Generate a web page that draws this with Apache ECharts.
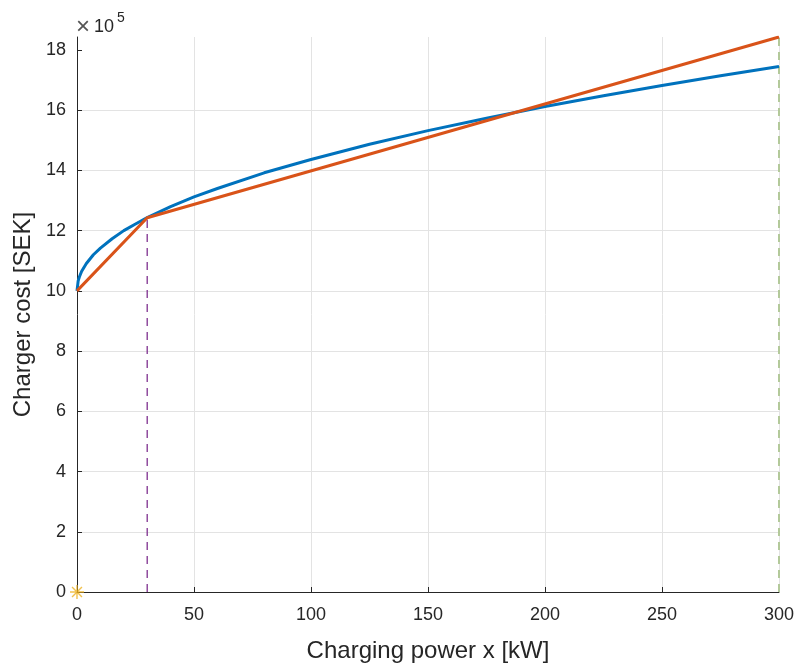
<!DOCTYPE html>
<html><head><meta charset="utf-8">
<script src="https://cdn.jsdelivr.net/npm/echarts@6/dist/echarts.min.js"></script>
<style>html,body{margin:0;padding:0;background:#fff}#c{width:798px;height:668px}</style>
</head><body><div id="c"></div>
<script>
// Values in units of 1e5 SEK
const powerX = [0, 0.5, 1, 2, 4, 7, 10, 15, 20, 25, 30, 40, 50, 60, 80, 100, 125, 150, 175, 200, 225, 250, 275, 300];
const costCurve = [10.00, 10.33, 10.46, 10.65, 10.91, 11.20, 11.42, 11.73, 12.00, 12.22, 12.43, 12.80, 13.12, 13.40, 13.92, 14.36, 14.87, 15.32, 15.73, 16.12, 16.48, 16.82, 17.14, 17.45];
const linX = [0, 30, 300];
const linCost = [10.00, 12.43, 18.43];
const breakX = 30;
const breakCost = 12.43;
const maxX = 300;
const maxCost = 18.43;
const originPoint = [0, 0];
const yTicks = [0, 2, 4, 6, 8, 10, 12, 14, 16, 18];

const chart = echarts.init(document.getElementById('c'));
const font = 'Liberation Sans, Arial, sans-serif';
const axisCol = '#262626';
const gridCol = '#e3e3e3';
const asterisk = 'path://M-1,-10L1,-10L1,10L-1,10Z M-10,-1L10,-1L10,1L-10,1Z M-7.8,-6.4L-6.4,-7.8L7.8,6.4L6.4,7.8Z M6.4,-7.8L7.8,-6.4L-6.4,7.8L-7.8,6.4Z';

chart.setOption({
  animation: false,
  backgroundColor: '#fff',
  grid: {left: 77, right: 19, top: 37, bottom: 75, containLabel: false},
  xAxis: {
    type: 'value', min: 0, max: 300, interval: 50,
    name: 'Charging power x [kW]', nameLocation: 'middle', nameGap: 47,
    nameTextStyle: {fontFamily: font, fontSize: 24, color: axisCol},
    axisLine: {show: true, onZero: false, lineStyle: {color: axisCol, width: 1}},
    axisTick: {show: true, inside: true, length: 5, lineStyle: {color: axisCol}},
    axisLabel: {fontFamily: font, fontSize: 18, color: axisCol, margin: 14},
    splitLine: {show: true, lineStyle: {color: gridCol, width: 1}}
  },
  yAxis: {
    type: 'value', min: 0, max: maxCost, interval: 2,
    name: 'Charger cost [SEK]', nameLocation: 'middle', nameGap: 41, nameRotate: 90,
    nameTextStyle: {fontFamily: font, fontSize: 24, color: axisCol},
    axisLine: {show: true, onZero: false, lineStyle: {color: axisCol, width: 1}},
    axisTick: {show: true, inside: true, length: 5, lineStyle: {color: axisCol}, customValues: yTicks},
    axisLabel: {fontFamily: font, fontSize: 18, color: axisCol, margin: 11, customValues: yTicks,
      formatter: v => (yTicks.indexOf(v) >= 0 ? String(v) : '')},
    splitLine: {show: true, showMaxLine: false, lineStyle: {color: gridCol, width: 1}}
  },
  graphic: [
    {type: 'text', x: 76, y: 27, style: {text: '×', font: '24px Liberation Sans, Arial, sans-serif', fill: '#555', verticalAlign: 'middle'}},
    {type: 'text', x: 94, y: 36, style: {text: '10', font: '18px Liberation Sans, Arial, sans-serif', fill: axisCol, verticalAlign: 'bottom'}},
    {type: 'text', x: 117, y: 11, style: {text: '5', font: '14px Liberation Sans, Arial, sans-serif', fill: axisCol, verticalAlign: 'top'}}
  ],
  series: [
    {
      type: 'line', data: [[breakX, 0], [breakX, breakCost]], showSymbol: false, silent: true,
      lineStyle: {color: '#7E2F8E', width: 1.3, type: [8, 6]}, z: 2
    },
    {
      type: 'line', data: [[maxX, 0], [maxX, maxCost]], showSymbol: false, silent: true,
      lineStyle: {color: '#b3c99a', width: 2, type: [8, 6]}, z: 2
    },
    {
      type: 'line', data: powerX.map((x, i) => [x, costCurve[i]]), showSymbol: false, smooth: false,
      lineStyle: {color: '#0072BD', width: 3}, z: 3
    },
    {
      type: 'line', data: linX.map((x, i) => [x, linCost[i]]), showSymbol: false,
      lineStyle: {color: '#D95319', width: 3}, z: 4
    },
    {
      type: 'scatter', data: [originPoint], symbol: asterisk, symbolSize: 14,
      itemStyle: {color: '#EDB120'}, z: 5, clip: false
    }
  ]
});
</script></body></html>
